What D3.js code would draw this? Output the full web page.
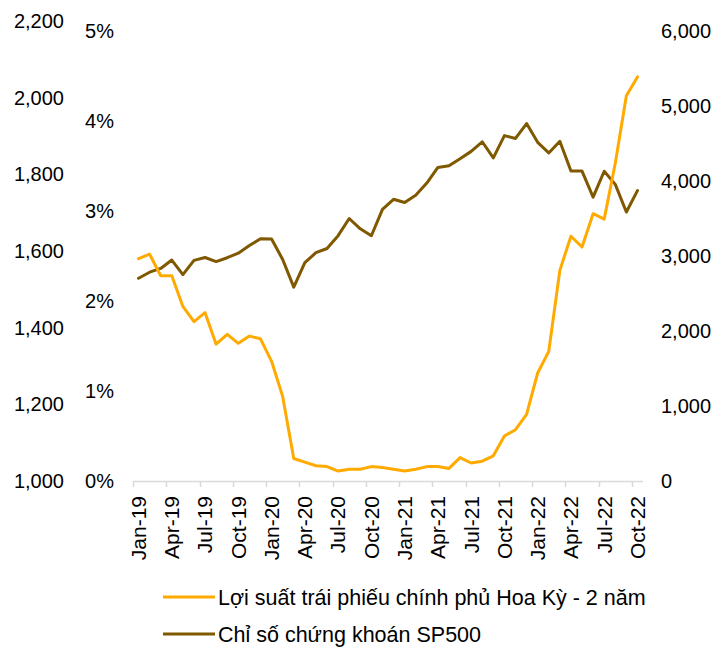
<!DOCTYPE html>
<html>
<head>
<meta charset="utf-8">
<script src="https://cdn.jsdelivr.net/npm/d3@7"></script>
<style>
  body { margin: 0; background: #fff; }
  text { font-family: "Liberation Sans", Arial, sans-serif; fill: #000; }
</style>
</head>
<body>
<div id="chart"></div>
<script>
var svgWidth = 719;
var svgHeight = 647;

// monthly categories Jan-19 .. Oct-22
var monthNames = ["Jan", "Feb", "Mar", "Apr", "May", "Jun", "Jul", "Aug", "Sep", "Oct", "Nov", "Dec"];
var months = [];
for (var yr = 19; yr <= 22; yr++) {
    monthNames.forEach(function (m, i) {
        if (yr === 22 && i > 9) return;
        months.push(m + "-" + yr);
    });
}

// 2-year US Treasury yield (%)
var yieldValues = [2.47, 2.52, 2.28, 2.28, 1.94, 1.77, 1.87, 1.52, 1.63, 1.53, 1.61, 1.58,
    1.33, 0.94, 0.25, 0.21, 0.17, 0.16, 0.11, 0.13, 0.13, 0.16, 0.15, 0.13,
    0.11, 0.13, 0.16, 0.16, 0.14, 0.26, 0.20, 0.22, 0.28, 0.50, 0.57, 0.74,
    1.20, 1.44, 2.34, 2.72, 2.60, 2.97, 2.91, 3.53, 4.28, 4.49];

// SP500 index
var sp500Values = [2704, 2784, 2834, 2946, 2752, 2942, 2980, 2926, 2977, 3038, 3141, 3231,
    3226, 2954, 2585, 2912, 3044, 3100, 3271, 3500, 3363, 3270, 3622, 3756,
    3714, 3811, 3973, 4181, 4204, 4298, 4395, 4523, 4308, 4605, 4567, 4766,
    4516, 4374, 4530, 4132, 4132, 3785, 4130, 3955, 3586, 3872];

var leftTicks = [1000, 1200, 1400, 1600, 1800, 2000, 2200];
var pctTicks = [0, 0.01, 0.02, 0.03, 0.04, 0.05];
var rightTicks = [0, 1000, 2000, 3000, 4000, 5000, 6000];
var tickMonths = months.filter(function (d, i) { return i % 3 === 0; });

var seriesNames = ["Lợi suất trái phiếu chính phủ Hoa Kỳ - 2 năm", "Chỉ số chứng khoán SP500"];
var colors = ["#FFAA00", "#7F5800"];

var svg = d3.select("#chart")
    .append("svg")
    .attr("width", svgWidth)
    .attr("height", svgHeight);

var x = d3.scaleBand().domain(months).range([133, 643]);
var yLeft = d3.scaleLinear().domain([1000, 2200]).range([481, 21]);
var yPct = d3.scaleLinear().domain([0, 0.05]).range([481, 31]);
var yRight = d3.scaleLinear().domain([0, 6000]).range([481, 31]);

var fontSize = "20px";

// outer left axis (no series)
var leftAxis = svg.append("g")
    .attr("transform", "translate(64,0)")
    .call(d3.axisLeft(yLeft).tickValues(leftTicks).tickSize(0).tickPadding(0).tickFormat(d3.format(",")));
leftAxis.select(".domain").remove();
leftAxis.selectAll("text").style("font-size", fontSize).attr("fill", "#000");

// percent axis
var pctAxis = svg.append("g")
    .attr("transform", "translate(114,0)")
    .call(d3.axisLeft(yPct).tickValues(pctTicks).tickSize(0).tickPadding(0).tickFormat(d3.format(".0%")));
pctAxis.select(".domain").remove();
pctAxis.selectAll("text").style("font-size", fontSize).attr("fill", "#000");

// right axis
var rightAxis = svg.append("g")
    .attr("transform", "translate(661,0)")
    .call(d3.axisRight(yRight).tickValues(rightTicks).tickSize(0).tickPadding(0).tickFormat(d3.format(",")));
rightAxis.select(".domain").remove();
rightAxis.selectAll("text").style("font-size", fontSize).attr("fill", "#000");

// x axis line + tick marks between categories
svg.append("line")
    .attr("x1", x.range()[0]).attr("x2", x.range()[1])
    .attr("y1", 481.5).attr("y2", 481.5)
    .attr("stroke", "#d9d9d9").attr("stroke-width", 1.5);

svg.selectAll(".xtick")
    .data(tickMonths)
    .enter()
    .append("line")
    .attr("class", "xtick")
    .attr("x1", d => Math.round(x(d)) + 0.5)
    .attr("x2", d => Math.round(x(d)) + 0.5)
    .attr("y1", 481)
    .attr("y2", 487)
    .attr("stroke", "#d9d9d9").attr("stroke-width", 1.5);

// x labels, rotated
var xAxis = svg.append("g")
    .attr("transform", "translate(0,481)")
    .call(d3.axisBottom(x).tickValues(tickMonths).tickSize(0).tickPadding(0));
xAxis.select(".domain").remove();
xAxis.selectAll("text")
    .style("font-size", "21px")
    .attr("fill", "#000")
    .attr("text-anchor", "end")
    .attr("transform", "rotate(-90)")
    .attr("x", -15)
    .attr("y", 0)
    .attr("dy", "0.35em");

// lines
var yieldLine = d3.line()
    .x((d, i) => x(months[i]) + x.bandwidth() / 2)
    .y(d => yPct(d / 100));

var spLine = d3.line()
    .x((d, i) => x(months[i]) + x.bandwidth() / 2)
    .y(d => yRight(d));

svg.append("path")
    .datum(sp500Values)
    .attr("d", spLine)
    .attr("fill", "none")
    .attr("stroke", colors[1])
    .attr("stroke-width", 3)
    .attr("stroke-linejoin", "round")
    .attr("stroke-linecap", "round");

svg.append("path")
    .datum(yieldValues)
    .attr("d", yieldLine)
    .attr("fill", "none")
    .attr("stroke", colors[0])
    .attr("stroke-width", 3)
    .attr("stroke-linejoin", "round")
    .attr("stroke-linecap", "round");

// legend
var legend = svg.append("g");
var legendY = [597, 634];
seriesNames.forEach(function (name, i) {
    legend.append("line")
        .attr("x1", 163).attr("x2", 215)
        .attr("y1", legendY[i]).attr("y2", legendY[i])
        .attr("stroke", colors[i]).attr("stroke-width", 3);
    legend.append("text")
        .attr("x", 218)
        .attr("y", legendY[i])
        .attr("dy", "0.35em")
        .style("font-size", "21.5px")
        .text(name);
});
</script>
</body>
</html>
